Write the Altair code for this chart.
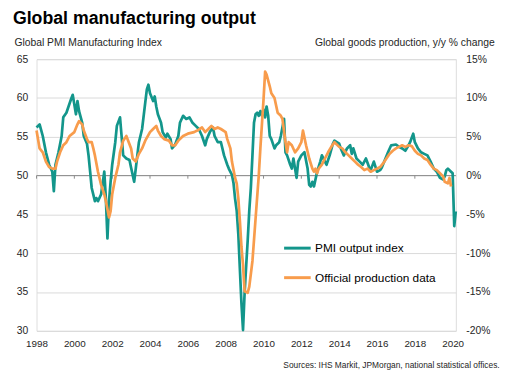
import altair as alt
import pandas as pd

# ---------------- data ----------------
pmi_months = [
    "1998-01", "1998-03", "1998-05", "1998-07", "1998-09", "1998-11", "1998-12",
    "1999-01", "1999-03", "1999-05", "1999-06", "1999-08", "1999-09", "1999-11", "1999-12",
    "2000-02", "2000-03", "2000-04", "2000-06", "2000-07", "2000-09", "2000-10", "2000-11", "2000-12",
    "2001-02", "2001-03", "2001-04", "2001-06", "2001-08", "2001-09", "2001-10", "2001-11", "2001-12",
    "2002-01", "2002-03", "2002-04", "2002-06", "2002-07", "2002-08", "2002-10", "2002-12",
    "2003-01", "2003-03", "2003-04", "2003-05", "2003-06", "2003-08", "2003-10", "2003-11", "2003-12",
    "2004-01", "2004-03", "2004-04", "2004-05", "2004-06", "2004-08", "2004-09", "2004-11", "2004-12",
    "2005-02", "2005-03", "2005-05", "2005-07", "2005-08", "2005-10", "2005-12",
    "2006-02", "2006-04", "2006-06", "2006-08", "2006-10", "2006-12",
    "2007-01", "2007-03", "2007-05", "2007-06", "2007-08", "2007-10", "2007-12",
    "2008-02", "2008-03", "2008-05", "2008-06", "2008-07", "2008-08", "2008-09", "2008-10", "2008-11", "2008-12",
    "2009-01", "2009-02", "2009-03", "2009-04", "2009-05", "2009-06", "2009-07", "2009-08", "2009-09", "2009-10", "2009-11", "2009-12",
    "2010-01", "2010-02", "2010-03", "2010-04", "2010-05", "2010-06", "2010-08", "2010-09", "2010-11", "2010-12",
    "2011-02", "2011-03", "2011-04", "2011-06", "2011-07", "2011-08", "2011-10", "2011-11",
    "2012-01", "2012-03", "2012-05", "2012-06", "2012-07", "2012-08", "2012-09", "2012-11",
    "2013-01", "2013-02", "2013-04", "2013-05", "2013-07", "2013-09", "2013-10",
    "2014-01", "2014-02", "2014-04", "2014-06", "2014-08", "2014-09", "2014-10", "2014-12",
    "2015-02", "2015-04", "2015-06", "2015-08", "2015-09", "2015-11",
    "2016-01", "2016-03", "2016-04", "2016-06", "2016-08", "2016-10",
    "2017-01", "2017-03", "2017-05", "2017-07", "2017-09", "2017-10", "2017-12",
    "2018-01", "2018-03", "2018-05", "2018-07", "2018-09", "2018-11",
    "2019-01", "2019-03", "2019-05", "2019-07", "2019-08", "2019-09", "2019-10", "2019-12",
    "2020-01", "2020-02", "2020-03",
]
pmi_values = [
    56.2, 56.6, 55.1, 53.0, 51.4, 50.5, 48.0,
    51.4, 53.0, 55.1, 57.5, 58.1, 58.7, 59.9, 60.4,
    57.9, 59.6, 58.3, 56.8, 55.1, 54.1, 52.6, 50.5, 48.4,
    46.7, 47.1, 46.7, 47.6, 50.5, 47.0, 41.9, 46.7, 49.2,
    51.4, 54.3, 56.4, 57.5, 55.1, 52.6, 52.2, 52.0,
    51.0, 49.2, 50.9, 52.6, 54.3, 56.0, 59.4, 61.1, 61.7,
    60.6, 59.6, 60.2, 58.9, 57.9, 56.8, 55.6, 54.9, 55.4,
    54.7, 53.5, 54.0, 55.1, 56.8, 57.7, 57.3,
    57.5, 56.8, 56.4, 56.0, 55.1, 53.9,
    54.7, 55.6, 56.2, 55.1, 54.3, 54.3, 52.6,
    51.4, 50.9, 50.1, 49.0, 47.0, 45.5, 42.5, 38.0, 33.5, 30.1,
    34.9, 38.5, 41.6, 45.5, 48.4, 52.6, 56.8, 57.9, 58.1, 57.7, 58.3, 57.7,
    58.5, 57.5, 58.9, 57.7, 55.1, 54.7, 53.5, 53.9, 54.3, 55.1,
    57.3, 53.0, 52.6, 51.4, 50.9, 52.2, 49.7, 51.8,
    52.6, 53.0, 50.9, 48.8, 48.6, 49.2, 48.6, 50.5,
    51.8, 52.6, 51.8, 51.4, 52.6, 54.1, 54.5,
    54.1, 53.5, 52.6, 53.5, 53.9, 52.8, 53.5, 52.2,
    51.8, 51.4, 52.2, 51.1, 50.7, 51.8,
    50.5, 50.7, 51.0, 52.0, 53.0, 53.9,
    54.0, 53.7, 53.5, 53.2, 53.9, 54.3, 55.4,
    54.3, 53.5, 53.0, 52.8, 52.6, 51.8,
    50.9, 50.5, 49.7, 49.5, 49.9, 50.7, 50.9, 50.5,
    50.3, 43.5, 45.4,
]

prod_months = [
    "1998-01", "1998-03", "1998-05", "1998-07", "1998-09", "1998-11",
    "1999-01", "1999-02", "1999-04", "1999-06", "1999-08", "1999-10",
    "2000-01", "2000-03", "2000-04", "2000-06", "2000-07", "2000-09", "2000-10", "2000-12",
    "2001-01", "2001-02", "2001-04", "2001-06", "2001-08", "2001-09", "2001-11", "2001-12",
    "2002-01", "2002-03", "2002-05", "2002-06", "2002-08", "2002-10",
    "2003-01", "2003-02", "2003-04", "2003-06", "2003-08", "2003-10",
    "2004-01", "2004-03", "2004-05", "2004-06", "2004-08", "2004-10",
    "2005-01", "2005-03", "2005-05", "2005-07", "2005-10",
    "2006-01", "2006-05", "2006-07", "2006-10", "2006-12",
    "2007-02", "2007-04", "2007-06", "2007-08", "2007-10",
    "2008-01", "2008-02", "2008-04", "2008-05", "2008-07", "2008-08", "2008-09", "2008-10", "2008-11", "2008-12",
    "2009-01", "2009-03", "2009-04", "2009-06", "2009-08", "2009-10", "2009-11",
    "2010-01", "2010-02", "2010-03", "2010-05", "2010-06", "2010-08", "2010-10", "2010-12",
    "2011-01", "2011-03", "2011-04", "2011-05", "2011-07", "2011-09", "2011-11",
    "2012-01", "2012-02", "2012-04", "2012-06", "2012-08", "2012-09", "2012-10", "2012-11", "2012-12",
    "2013-02", "2013-04", "2013-06", "2013-08", "2013-10",
    "2014-01", "2014-03", "2014-05", "2014-07", "2014-09", "2014-11",
    "2015-01", "2015-03", "2015-05", "2015-07", "2015-09", "2015-11",
    "2016-01", "2016-03", "2016-05", "2016-07", "2016-09", "2016-11",
    "2017-01", "2017-03", "2017-05", "2017-07", "2017-09", "2017-11",
    "2018-01", "2018-03", "2018-05", "2018-07", "2018-09", "2018-11",
    "2019-01", "2019-03", "2019-05", "2019-07", "2019-08", "2019-10", "2019-11", "2019-12",
]
prod_values = [
    5.8, 3.5, 3.0, 1.8, 1.1, 0.9,
    0.9, 1.8, 3.0, 3.9, 4.3, 5.1,
    5.6, 6.6, 7.0, 6.6, 5.8, 4.7, 4.3, 4.3,
    3.5, 2.6, 0.5, -1.2, -2.4, -3.3, -5.4, -4.6,
    -2.4, -0.3, 1.4, 3.0, 4.5, 5.1,
    3.5, 2.2, 1.8, 2.8, 3.5, 4.5,
    5.6, 6.0, 6.4, 5.8, 5.1, 4.7,
    4.5, 3.9, 3.9, 4.5, 5.1,
    5.4, 5.6, 5.8, 6.2, 5.6,
    6.0, 6.4, 6.0, 6.2, 6.0,
    5.6, 4.7, 3.5, 1.8, -0.3, -1.0, -2.9, -5.8, -9.2, -11.5,
    -14.9, -15.1, -14.3, -11.0, -5.5, 0.0, 3.5,
    9.8, 13.4, 13.0, 11.5, 10.6, 10.0, 8.1, 7.7,
    7.3, 4.3, 3.0, 4.3, 3.9, 3.0, 3.5,
    4.3, 5.8, 3.9, 2.2, 0.9, 0.5, 0.9, 0.3, 0.9,
    1.4, 2.2, 3.0, 3.7, 4.3,
    3.7, 3.5, 3.0, 2.6, 2.2, 1.8,
    1.4, 1.1, 0.7, 0.9, 0.5, 0.7,
    0.9, 1.1, 1.6, 2.2, 2.8, 3.2,
    3.5, 3.7, 3.9, 3.7, 3.9, 3.8,
    3.2, 2.8, 2.6, 2.2, 2.0, 1.4,
    0.9, 0.7, 0.3, -0.1, -0.8, -1.0, -0.3, -1.4,
]

series_names = ["PMI output index", "Official production data"]
year_ticks = [1998, 2000, 2002, 2004, 2006, 2008, 2010, 2012, 2014, 2016, 2018, 2020]
left_ticks = [30, 35, 40, 45, 50, 55, 60, 65]
right_ticks = [-20, -15, -10, -5, 0, 5, 10, 15]

assert len(pmi_months) == len(pmi_values)
assert len(prod_months) == len(prod_values)

# ---------------- styling ----------------
TEAL = "#13968b"
ORANGE = "#f89c4c"
FONT = "Liberation Sans"
TXT = "#262626"

pmi_df = pd.DataFrame({"date": pmi_months, "value": pmi_values, "series": series_names[0]})
prod_df = pd.DataFrame({"date": prod_months, "value": prod_values, "series": series_names[1]})
tick_df = pd.DataFrame({"date": [f"{y}-01" for y in year_ticks], "top": 50.0, "bottom": 49.6})
zero_df = pd.DataFrame({"y": [50.0]})

x_scale = alt.Scale(domain=[alt.DateTime(year=1998, month=1, date=1),
                            alt.DateTime(year=2020, month=3, date=3)])
left_scale = alt.Scale(domain=[30, 65], nice=False, zero=False)
right_scale = alt.Scale(domain=[-20, 15], nice=False, zero=False)
color_scale = alt.Scale(domain=series_names, range=[TEAL, ORANGE])

x_axis = alt.Axis(
    values=[alt.DateTime(year=y, month=1, date=1) for y in year_ticks],
    format="%Y", grid=False, domain=False, ticks=False, labelFlush=False,
    labelOverlap=False,
    labelFont=FONT, labelFontSize=10, labelColor=TXT, labelPadding=8,
    title="Sources: IHS Markit, JPMorgan, national statistical offices.",
    titleFont=FONT, titleFontSize=8.5, titleFontWeight="normal", titleColor=TXT,
    titleAnchor="end", titleAlign="right", titleBaseline="alphabetic",
    titleX=470, titleY=37,
)
left_axis = alt.Axis(
    orient="left", values=left_ticks, grid=True, gridColor="#d9d9d9", gridWidth=1,
    domain=False, ticks=False, labelFont=FONT, labelFontSize=10.5, labelColor=TXT,
    labelPadding=9,
    title="Global PMI Manufacturing Index", titleAngle=0, titleAlign="left",
    titleBaseline="alphabetic", titleX=-23, titleY=-14,
    titleFont=FONT, titleFontSize=10.5, titleFontWeight="normal", titleColor=TXT,
)
right_axis = alt.Axis(
    orient="right", values=right_ticks, grid=False, domain=False, ticks=False,
    labelExpr="datum.value + '%'", labelAlign="left",
    labelFont=FONT, labelFontSize=10.5, labelColor=TXT, labelPadding=10,
    title="Global goods production, y/y % change", titleAngle=0, titleAlign="right",
    titleBaseline="alphabetic", titleX=39, titleY=-14,
    titleFont=FONT, titleFontSize=10.5, titleFontWeight="normal", titleColor=TXT,
)

zero_line = alt.Chart(zero_df).mark_rule(color="#8a8a8a", strokeWidth=1).encode(
    y=alt.Y("y:Q", scale=left_scale, axis=None)
)
tick_marks = alt.Chart(tick_df).mark_rule(color="#8a8a8a", strokeWidth=1).encode(
    x=alt.X("date:T", scale=x_scale, axis=x_axis),
    y=alt.Y("top:Q", scale=left_scale, axis=None),
    y2="bottom:Q",
)

legend = alt.Legend(
    orient="none", legendX=250, legendY=177, title=None, padding=0,
    symbolType="stroke", symbolSize=729, symbolStrokeWidth=3, rowPadding=9,
    labelFont=FONT, labelFontSize=12, labelColor="#000000", labelOffset=3,
)

pmi_line = alt.Chart(pmi_df).mark_line(strokeWidth=2.75, strokeJoin="round").encode(
    x=alt.X("date:T", scale=x_scale, axis=x_axis),
    y=alt.Y("value:Q", scale=left_scale, axis=left_axis),
    color=alt.Color("series:N", scale=color_scale, legend=legend),
)
prod_line = alt.Chart(prod_df).mark_line(strokeWidth=2.75, strokeJoin="round").encode(
    x=alt.X("date:T", scale=x_scale, axis=x_axis),
    y=alt.Y("value:Q", scale=right_scale, axis=right_axis),
    color=alt.Color("series:N", scale=color_scale, legend=legend),
)

chart = alt.layer(zero_line, tick_marks, pmi_line, prod_line).resolve_scale(
    y="independent"
).properties(
    width=426, height=276,
    autosize=alt.AutoSizeParams(type="none"),
    padding={"left": 29, "top": 49, "right": 55, "bottom": 47},
    title=alt.Title(
        "Global manufacturing output", anchor="start", frame="group", dx=-24,
        fontSize=18, font=FONT, fontWeight="bold", color="#000000", offset=10,
    ),
).configure_view(stroke=None).configure(background="white")

chart.save("out.html", embed_options={"renderer": "svg", "actions": False})
